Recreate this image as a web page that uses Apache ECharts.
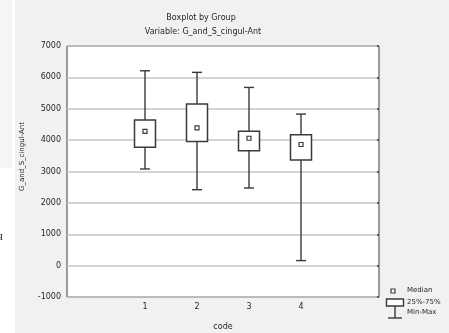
<!DOCTYPE html>
<html>
<head>
<meta charset="utf-8">
<script src="https://cdn.jsdelivr.net/npm/echarts@6/dist/echarts.min.js"></script>
<style>
  html, body { margin: 0; padding: 0; background: #fff; }
  #main { width: 449px; height: 333px; }
</style>
</head>
<body>
<div id="main"></div>
<script>
// axis slots: 0 and 5 are empty padding slots, groups sit at 1..4
var xSlots = ['0', '1', '2', '3', '4', '5'];
var groups = ['1', '2', '3', '4'];
var minVals = [3080, 2420, 2475, 160];
var q1Vals = [3770, 3960, 3660, 3370];
var medianVals = [4280, 4390, 4060, 3860];
var q3Vals = [4640, 5150, 4280, 4170];
var maxVals = [6210, 6160, 5680, 4830];
var yTicks = [-1000, 0, 1000, 2000, 3000, 4000, 5000, 6000, 7000];

var FONT = 'DejaVu Sans';
var INK = '#3a3a3a';
var TXT = '#262626';

var seriesData = groups.map(function (g, i) {
    return [xSlots.indexOf(g), minVals[i], q1Vals[i], medianVals[i], q3Vals[i], maxVals[i]];
});

function renderBox(params, api) {
    var x = api.value(0);
    var pMin = api.coord([x, api.value(1)]);
    var pQ1 = api.coord([x, api.value(2)]);
    var pMed = api.coord([x, api.value(3)]);
    var pQ3 = api.coord([x, api.value(4)]);
    var pMax = api.coord([x, api.value(5)]);
    var half = 10.5, cap = 5;
    var ls = { stroke: INK, lineWidth: 1.4, fill: null };
    return {
        type: 'group',
        children: [
            { type: 'line', shape: { x1: pMax[0], y1: pMax[1], x2: pQ3[0], y2: pQ3[1] }, style: ls },
            { type: 'line', shape: { x1: pQ1[0], y1: pQ1[1], x2: pMin[0], y2: pMin[1] }, style: ls },
            { type: 'line', shape: { x1: pMax[0] - cap, y1: pMax[1], x2: pMax[0] + cap, y2: pMax[1] }, style: ls },
            { type: 'line', shape: { x1: pMin[0] - cap, y1: pMin[1], x2: pMin[0] + cap, y2: pMin[1] }, style: ls },
            { type: 'rect', shape: { x: pQ3[0] - half, y: pQ3[1], width: half * 2, height: pQ1[1] - pQ3[1] },
              style: { stroke: INK, lineWidth: 1.5, fill: '#fff' } },
            { type: 'rect', shape: { x: pMed[0] - 2, y: pMed[1] - 2, width: 4, height: 4 },
              style: { stroke: INK, lineWidth: 1.2, fill: '#fff' } }
        ]
    };
}

var chart = echarts.init(document.getElementById('main'));
chart.setOption({
    backgroundColor: '#fff',
    animation: false,
    graphic: [
        { type: 'rect', z: -10, shape: { x: 15, y: 0, width: 434, height: 333 }, style: { fill: '#f1f1f1' } },
        { type: 'rect', z: -10, shape: { x: 0, y: 0, width: 12, height: 168 }, style: { fill: '#f5f5f5' } },
        { type: 'text', x: -3, y: 230, style: { text: 'я', font: '13px "Liberation Serif"', fill: '#444' } },
        { type: 'text', x: 201, y: 14, style: { text: 'Boxplot by Group', font: '8px "' + FONT + '"', fill: TXT, align: 'center' } },
        { type: 'text', x: 203, y: 28, style: { text: 'Variable: G_and_S_cingul-Ant', font: '8px "' + FONT + '"', fill: TXT, align: 'center' } },
        { type: 'text', x: 223, y: 323, style: { text: 'code', font: '8px "' + FONT + '"', fill: TXT, align: 'center' } },
        // legend
        { type: 'rect', shape: { x: 391, y: 289, width: 4, height: 4 }, style: { stroke: INK, lineWidth: 1.2, fill: '#fff' } },
        { type: 'rect', shape: { x: 386.5, y: 299, width: 17, height: 7 }, style: { stroke: INK, lineWidth: 1.4, fill: '#fff' } },
        { type: 'line', shape: { x1: 395, y1: 306, x2: 395, y2: 318 }, style: { stroke: INK, lineWidth: 1.4 } },
        { type: 'line', shape: { x1: 388, y1: 318, x2: 402, y2: 318 }, style: { stroke: INK, lineWidth: 1.4 } },
        { type: 'text', x: 407, y: 287, style: { text: 'Median', font: '7px "' + FONT + '"', fill: TXT } },
        { type: 'text', x: 407, y: 299, style: { text: '25%-75%', font: '7px "' + FONT + '"', fill: TXT } },
        { type: 'text', x: 407, y: 309, style: { text: 'Min-Max', font: '7px "' + FONT + '"', fill: TXT } }
    ],
    grid: {
        left: 67, top: 46, right: 70, bottom: 36,
        show: true, backgroundColor: '#fff', borderColor: '#3c3c3c', borderWidth: 1
    },
    xAxis: [{
        type: 'category',
        data: xSlots,
        boundaryGap: true,
        position: 'bottom',
        axisLine: { show: false },
        axisTick: { inside: true, alignWithLabel: true, length: 2, lineStyle: { color: INK, width: 1.5 } },
        axisLabel: {
            margin: 6, fontFamily: FONT, fontSize: 8, color: TXT,
            formatter: function (v) { return groups.indexOf(v) >= 0 ? v : ''; }
        },
        splitLine: { show: false }
    }, {
        type: 'category',
        data: xSlots,
        boundaryGap: true,
        position: 'top',
        axisLine: { show: false },
        axisTick: { inside: true, alignWithLabel: true, length: 2, lineStyle: { color: INK, width: 1.5 } },
        axisLabel: { show: false }
    }],
    yAxis: [{
        type: 'value',
        min: yTicks[0], max: yTicks[yTicks.length - 1], interval: 1000,
        name: 'G_and_S_cingul-Ant',
        nameLocation: 'middle',
        nameGap: 41,
        nameTextStyle: { fontFamily: FONT, fontSize: 7, color: TXT, padding: [0, 0, 0, 30] },
        axisLine: { show: false },
        axisTick: { show: false },
        axisLabel: {
            margin: 6, fontFamily: FONT, fontSize: 8, color: TXT,
            formatter: function (v) { return String(v); }
        },
        splitLine: { lineStyle: { color: '#c6c6c6', width: 1.5 } }
    }, {
        type: 'value',
        position: 'right',
        min: yTicks[0], max: yTicks[yTicks.length - 1], interval: 1000,
        axisLine: { show: false },
        axisTick: { show: true, inside: true, length: 2, lineStyle: { color: INK, width: 1.5 } },
        axisLabel: { show: false },
        splitLine: { show: false }
    }],
    series: [{
        type: 'custom',
        renderItem: renderBox,
        encode: { x: 0, y: [1, 2, 3, 4, 5] },
        data: seriesData,
        z: 5
    }]
});
</script>
</body>
</html>
